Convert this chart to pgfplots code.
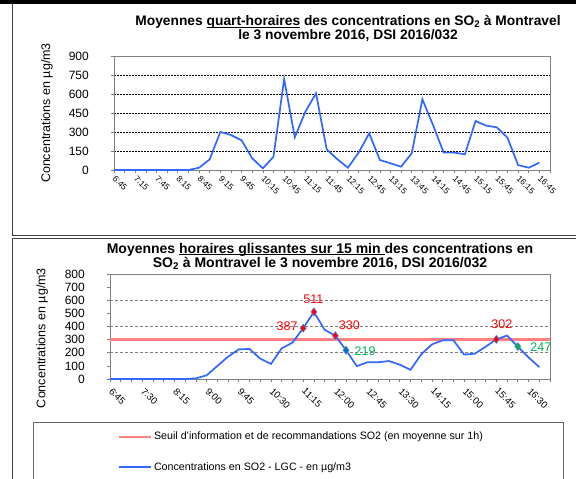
\documentclass[border=0pt]{standalone}
\usepackage{pgfplots}
\pgfplotsset{compat=1.18}
\usepackage{pgfplotstable}
\usepackage{fontspec}
\setmainfont{Liberation Sans}
\definecolor{lineblue}{RGB}{51,102,255}
\definecolor{seuil}{RGB}{255,128,128}
\definecolor{axgray}{RGB}{128,128,128}
\definecolor{framec}{RGB}{64,64,64}
\definecolor{legc}{RGB}{100,100,100}
\definecolor{lblred}{RGB}{255,0,0}
\definecolor{lblgreen}{RGB}{0,176,80}
\definecolor{mkblue}{RGB}{0,112,192}
\definecolor{mkedge}{RGB}{90,130,210}
\newcommand{\ul}[1]{\setbox0\hbox{#1}\rlap{\rule[-2.3pt]{\wd0}{0.9pt}}\box0}

% 15-minute averages, index 0 = 6:45, step 15 min
\pgfplotstableread{
i v
0 0
1 0
2 0
3 0
4 0
5 0
6 0
7 0
8 18
9 84
10 301
11 276
12 234
13 92
14 13
15 105
16 718
17 258
18 461
19 605
20 163
21 85
22 18
23 137
24 289
25 79
26 53
27 26
28 132
29 558
30 355
31 137
32 137
33 124
34 387
35 350
36 337
37 255
38 39
39 18
40 58
}\quart

% hourly sliding averages, index 0 = 6:45
\pgfplotstableread{
i v
0 0
1 0
2 0
3 0
4 0
5 0
6 0
7 0
8 5
9 28
10 99
11 170
12 226
13 229
14 155
15 115
16 234
17 277
18 387
19 511
20 375
21 330
22 219
23 98
24 128
25 128
26 137
27 109
28 70
29 188
30 264
31 295
32 295
33 186
34 193
35 246
36 302
37 331
38 247
39 164
40 91
}\glis

\begin{document}
\begin{tikzpicture}
\path[use as bounding box] (0pt,0pt) rectangle (576pt,-479pt);
\fill[black] (0pt,0pt) rectangle (576pt,-3.5pt);
\draw[framec, line width=0.9pt] (12pt,-4pt) -- (12pt,-235pt) -- (580pt,-235pt);
\draw[framec, line width=0.9pt] (12pt,-495pt) -- (12pt,-238.5pt) -- (580pt,-238.5pt);

% ---------- top chart ----------
\begin{axis}[
  at={(114pt,-170pt)}, anchor=south west,
  scale only axis, width=436pt, height=114pt,
  xmin=0, xmax=41, ymin=0, ymax=900,
  axis line style={axgray, line width=0.9pt},
  xtick={0,2,...,40},
  xticklabels={6:45,7:15,7:45,8:15,8:45,9:15,9:45,10:15,10:45,11:15,11:45,12:15,12:45,13:15,13:45,14:15,14:45,15:15,15:45,16:15,16:45},
  minor xtick={0,...,41},
  ytick={0,150,...,900},
  xtick pos=bottom, ytick pos=left,
  tick align=outside, major tick length=3pt, minor tick length=3pt,
  tick style={axgray, line width=0.7pt},
  ymajorgrids, grid style={black, line width=0.6pt, dash pattern=on 2pt off 1pt},
  /pgf/number format/assume math mode=true,
  yticklabel style={font=\fontsize{12}{14}\selectfont, anchor=east, inner sep=0pt, xshift=-22pt},
  xticklabel style={font=\fontsize{8.5}{10}\selectfont, xshift=2.3pt, yshift=-2pt, rotate=-45, anchor=north west, inner sep=0pt},
  ylabel={Concentrations en µg/m3},
  ylabel style={font=\fontsize{12.5}{14}\selectfont, at={(axis description cs:-0.1537,0.5)}, anchor=center},
]
\addplot[lineblue, line width=1.7pt] table[x=i, y=v] {\quart};
\end{axis}

\node[anchor=base, font=\fontsize{13.8}{15}\selectfont\bfseries] at (348pt,-25.5pt) {Moyennes \ul{quart-horaires}\ des concentrations en SO\textsubscript{2} à Montravel};
\node[anchor=base, font=\fontsize{13.8}{15}\selectfont\bfseries] at (348pt,-39pt) {le 3 novembre 2016, DSI 2016/032};

% ---------- bottom chart ----------
\begin{axis}[
  at={(110pt,-379pt)}, anchor=south west,
  scale only axis, width=440pt, height=105pt,
  xmin=0, xmax=41, ymin=0, ymax=800,
  axis line style={axgray, line width=0.9pt},
  xtick={0,3,...,39},
  xticklabels={6:45,7:30,8:15,9:00,9:45,10:30,11:15,12:00,12:45,13:30,14:15,15:00,15:45,16:30},
  minor xtick={0,...,41},
  ytick={0,100,...,800},
  extra y ticks={200,400,600}, extra y tick labels={},
  extra y tick style={ymajorgrids=true},
  grid style={axgray, line width=0.7pt, dash pattern=on 3pt off 2pt},
  xtick pos=bottom, ytick pos=left,
  tick align=outside, major tick length=3pt, minor tick length=3pt,
  tick style={axgray, line width=0.7pt},
  /pgf/number format/assume math mode=true,
  yticklabel style={font=\fontsize{12}{12}\selectfont, anchor=east, inner sep=0pt, xshift=-22pt},
  xticklabel style={font=\fontsize{9.6}{11}\selectfont, xshift=3pt, yshift=-5pt, rotate=-45, anchor=north west, inner sep=0pt},
  ylabel={Concentrations en µg/m3},
  ylabel style={font=\fontsize{12.5}{14}\selectfont, at={(axis description cs:-0.1545,0.39)}, anchor=center},
  legend style={at={(axis description cs:0.018,-0.49)}, anchor=north west, draw=none, fill=none,
    font=\fontsize{10.7}{12}\selectfont, row sep=18pt, inner sep=0pt, nodes={inner sep=1.5pt}},
  legend cell align=left,
  legend image code/.code={\draw[#1] (0pt,0pt) -- (32pt,0pt);},
]
\addplot[seuil, line width=2.4pt] coordinates {(0,300) (41,300)};
\addlegendentry{Seuil d'information et de recommandations SO2 (en moyenne sur 1h)}
\addplot[lineblue, line width=1.7pt] table[x=i, y=v] {\glis};
\addlegendentry{Concentrations en SO2 - LGC - en µg/m3}

\pgfplotsset{lblstyle/.style={nodes near coords, point meta=explicit symbolic,
   nodes near coords style={font=\fontsize{12.5}{14}\selectfont, anchor=center, inner sep=0pt, text=#1}}}
\addplot[forget plot, only marks, mark=diamond*, mark size=4pt, mark options={fill=lblred, draw=mkedge, line width=0.6pt},
  lblstyle=lblred, nodes near coords style={xshift=-16pt, yshift=2pt}] coordinates {(18,387) [387]};
\addplot[forget plot, only marks, mark=diamond*, mark size=4pt, mark options={fill=lblred, draw=mkedge, line width=0.6pt},
  lblstyle=lblred, nodes near coords style={xshift=-0.5pt, yshift=13pt}] coordinates {(19,511) [511]};
\addplot[forget plot, only marks, mark=diamond*, mark size=4pt, mark options={fill=lblred, draw=mkedge, line width=0.6pt},
  lblstyle=lblred, nodes near coords style={xshift=14pt, yshift=10pt}] coordinates {(21,330) [330]};
\addplot[forget plot, only marks, mark=diamond*, mark size=4pt, mark options={fill=mkblue, draw=mkedge, line width=0.6pt},
  lblstyle=lblgreen, nodes near coords style={xshift=19pt, yshift=-0.5pt}] coordinates {(22,219) [219]};
\addplot[forget plot, only marks, mark=diamond*, mark size=4pt, mark options={fill=lblred, draw=mkedge, line width=0.6pt},
  lblstyle=lblred, nodes near coords style={xshift=5.5pt, yshift=15.5pt}] coordinates {(36,302) [302]};
\addplot[forget plot, only marks, mark=diamond*, mark size=4pt, mark options={fill=lblgreen, draw=mkedge, line width=0.6pt},
  lblstyle=lblgreen, nodes near coords style={xshift=23pt, yshift=-0.5pt}] coordinates {(38,247) [247]};
\end{axis}

\node[anchor=base, font=\fontsize{14}{15}\selectfont\bfseries] at (320pt,-253pt) {Moyennes \ul{horaires glissantes sur 15 min }des concentrations en};
\node[anchor=base, font=\fontsize{14}{15}\selectfont\bfseries] at (320pt,-267.5pt) {SO\textsubscript{2} à Montravel le 3 novembre 2016, DSI 2016/032};

\draw[legc, line width=0.9pt] (33pt,-422pt) rectangle (563pt,-500pt);
\end{tikzpicture}
\end{document}
